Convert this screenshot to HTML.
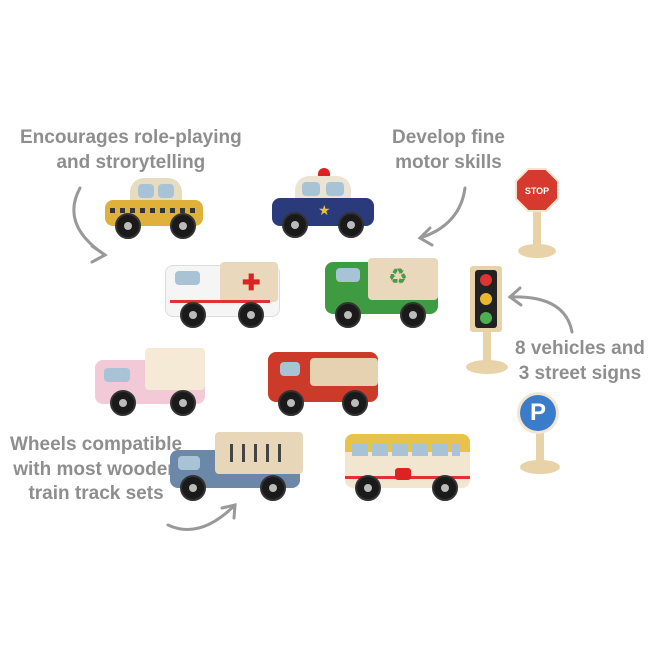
<!DOCTYPE html>
<html><head><meta charset="utf-8"><style>
body{margin:0;width:650px;height:650px;background:#fff;position:relative;overflow:hidden;font-family:"Liberation Sans",sans-serif}
.t{position:absolute;color:#8e8e8e;font-weight:bold;font-size:19px;letter-spacing:0;line-height:24.5px;text-align:center;white-space:nowrap;font-family:"Liberation Sans",sans-serif}
.a{position:absolute}
.w{position:absolute;width:22px;height:22px;border-radius:50%;background:#1a1a1a;border:2px solid #333}
.w::after{content:"";position:absolute;left:7px;top:7px;width:8px;height:8px;border-radius:50%;background:#bbb}
</style></head><body>
<div class="t" style="left:20px;top:126px">Encourages role-playing<br>and strorytelling</div>
<div class="t" style="left:392px;top:126px">Develop fine<br>motor skills</div>
<div class="t" style="left:515px;top:337px">8 vehicles and<br>3 street signs</div>
<div class="t" style="left:10px;top:433px">Wheels compatible<br>with most wooden<br>train track sets</div>
<svg class="a" style="left:0;top:0" width="650" height="650" fill="none" stroke="#999" stroke-width="3" stroke-linecap="round">
<path d="M80 188 Q60 225 105 255"/><path d="M92 246 L105 255 L92 262"/>
<path d="M465 188 Q460 225 420 238"/><path d="M430 228 L420 238 L432 245"/>
<path d="M572 332 Q565 295 510 297"/><path d="M520 288 L510 297 L521 305"/>
<path d="M168 525 Q200 540 235 505"/><path d="M222 508 L235 505 L234 518"/>
</svg>
<div class="a" style="left:130px;top:178px;width:52px;height:26px;background:#e8dcc0;border-radius:14px 14px 0 0"></div>
<div class="a" style="left:138px;top:184px;width:16px;height:14px;background:#a9c3d6;border-radius:4px"></div>
<div class="a" style="left:158px;top:184px;width:16px;height:14px;background:#a9c3d6;border-radius:4px"></div>
<div class="a" style="left:105px;top:200px;width:98px;height:26px;background:#e0b13a;border-radius:8px"></div>
<div class="a" style="left:110px;top:208px;width:90px;height:5px;background:repeating-linear-gradient(90deg,#333 0 5px,#e0b13a 5px 10px)"></div>
<div class="w" style="left:115px;top:213px"></div><div class="w" style="left:170px;top:213px"></div>
<div class="a" style="left:318px;top:168px;width:12px;height:10px;background:#d22;border-radius:6px 6px 0 0"></div>
<div class="a" style="left:295px;top:176px;width:56px;height:26px;background:#ece4d2;border-radius:14px 14px 0 0"></div>
<div class="a" style="left:302px;top:182px;width:18px;height:14px;background:#a9c3d6;border-radius:4px"></div>
<div class="a" style="left:326px;top:182px;width:18px;height:14px;background:#a9c3d6;border-radius:4px"></div>
<div class="a" style="left:272px;top:198px;width:102px;height:28px;background:#2b3a7a;border-radius:8px"></div>
<div class="a" style="left:318px;top:202px;color:#e2c240;font-size:14px">★</div>
<div class="w" style="left:282px;top:212px"></div><div class="w" style="left:338px;top:212px"></div>
<div class="a" style="left:165px;top:265px;width:113px;height:50px;background:#f5f5f5;border-radius:8px;border:1px solid #ddd"></div>
<div class="a" style="left:220px;top:262px;width:58px;height:40px;background:#ead8bc;border-radius:4px"></div>
<div class="a" style="left:242px;top:270px;color:#d22;font-size:22px;font-weight:bold">✚</div>
<div class="a" style="left:175px;top:271px;width:25px;height:14px;background:#a9c3d6;border-radius:4px"></div>
<div class="a" style="left:170px;top:300px;width:100px;height:3px;background:#d33"></div>
<div class="w" style="left:180px;top:302px"></div><div class="w" style="left:238px;top:302px"></div>
<div class="a" style="left:325px;top:262px;width:113px;height:52px;background:#3f9b42;border-radius:8px"></div>
<div class="a" style="left:368px;top:258px;width:70px;height:42px;background:#ead8bc;border-radius:4px"></div>
<div class="a" style="left:388px;top:264px;color:#4a9a4a;font-size:22px">♻</div>
<div class="a" style="left:336px;top:268px;width:24px;height:14px;background:#a9c3d6;border-radius:4px"></div>
<div class="w" style="left:335px;top:302px"></div><div class="w" style="left:400px;top:302px"></div>
<div class="a" style="left:95px;top:360px;width:110px;height:44px;background:#f2c9d6;border-radius:8px"></div>
<div class="a" style="left:145px;top:348px;width:60px;height:42px;background:#f5ead5;border-radius:4px"></div>
<div class="a" style="left:104px;top:368px;width:26px;height:14px;background:#a9c3d6;border-radius:4px"></div>
<div class="w" style="left:110px;top:390px"></div><div class="w" style="left:170px;top:390px"></div>
<div class="a" style="left:268px;top:352px;width:110px;height:50px;background:#cc3a2a;border-radius:8px"></div>
<div class="a" style="left:310px;top:358px;width:68px;height:28px;background:#e6d2b0;border-radius:4px"></div>
<div class="a" style="left:280px;top:362px;width:20px;height:14px;background:#a9c3d6;border-radius:4px"></div>
<div class="w" style="left:278px;top:390px"></div><div class="w" style="left:342px;top:390px"></div>
<div class="a" style="left:170px;top:450px;width:130px;height:38px;background:#6b88a8;border-radius:8px"></div>
<div class="a" style="left:215px;top:432px;width:88px;height:42px;background:#e8d6b8;border-radius:4px"></div>
<div class="a" style="left:230px;top:444px;width:60px;height:18px;background:repeating-linear-gradient(90deg,#444 0 3px,transparent 3px 12px)"></div>
<div class="a" style="left:178px;top:456px;width:22px;height:14px;background:#a9c3d6;border-radius:4px"></div>
<div class="w" style="left:180px;top:475px"></div><div class="w" style="left:260px;top:475px"></div>
<div class="a" style="left:345px;top:434px;width:125px;height:54px;background:#f2e6d0;border-radius:8px;overflow:hidden"><div style="height:18px;background:#e8c24a"></div></div>
<div class="a" style="left:352px;top:444px;width:108px;height:12px;background:repeating-linear-gradient(90deg,#a9c3d6 0 16px,transparent 16px 20px)"></div>
<div class="a" style="left:345px;top:476px;width:125px;height:3px;background:#d33"></div>
<div class="a" style="left:395px;top:468px;width:16px;height:12px;background:#d22;border-radius:3px"></div>
<div class="w" style="left:355px;top:475px"></div><div class="w" style="left:432px;top:475px"></div>
<div class="a" style="left:533px;top:205px;width:8px;height:42px;background:#e8d2a8"></div>
<div class="a" style="left:518px;top:244px;width:38px;height:14px;background:#e8d2a8;border-radius:50%"></div>
<svg class="a" style="left:515px;top:168px" width="44" height="44"><polygon points="13,1 31,1 43,13 43,31 31,43 13,43 1,31 1,13" fill="#d63a2e" stroke="#f2e6d0" stroke-width="2"/><text x="22" y="26" font-size="9" font-weight="bold" fill="#fff" text-anchor="middle" font-family="Liberation Sans">STOP</text></svg>
<div class="a" style="left:483px;top:330px;width:8px;height:35px;background:#e8d2a8"></div>
<div class="a" style="left:466px;top:360px;width:42px;height:14px;background:#e8d2a8;border-radius:50%"></div>
<div class="a" style="left:470px;top:266px;width:32px;height:66px;background:#e8d2a8;border-radius:3px"></div>
<div class="a" style="left:475px;top:270px;width:22px;height:58px;background:#222;border-radius:3px"></div>
<div class="a" style="left:480px;top:274px;width:12px;height:12px;border-radius:50%;background:#d33"></div>
<div class="a" style="left:480px;top:293px;width:12px;height:12px;border-radius:50%;background:#e8b92d"></div>
<div class="a" style="left:480px;top:312px;width:12px;height:12px;border-radius:50%;background:#4caf50"></div>
<div class="a" style="left:536px;top:430px;width:8px;height:35px;background:#e8d2a8"></div>
<div class="a" style="left:520px;top:460px;width:40px;height:14px;background:#e8d2a8;border-radius:50%"></div>
<div class="a" style="left:517px;top:392px;width:42px;height:42px;border-radius:50%;background:#f2e6d0"></div>
<div class="a" style="left:520px;top:395px;width:36px;height:36px;border-radius:50%;background:#3a7cc9;color:#fff;font:bold 24px 'Liberation Sans';text-align:center;line-height:36px">P</div>
</body></html>
